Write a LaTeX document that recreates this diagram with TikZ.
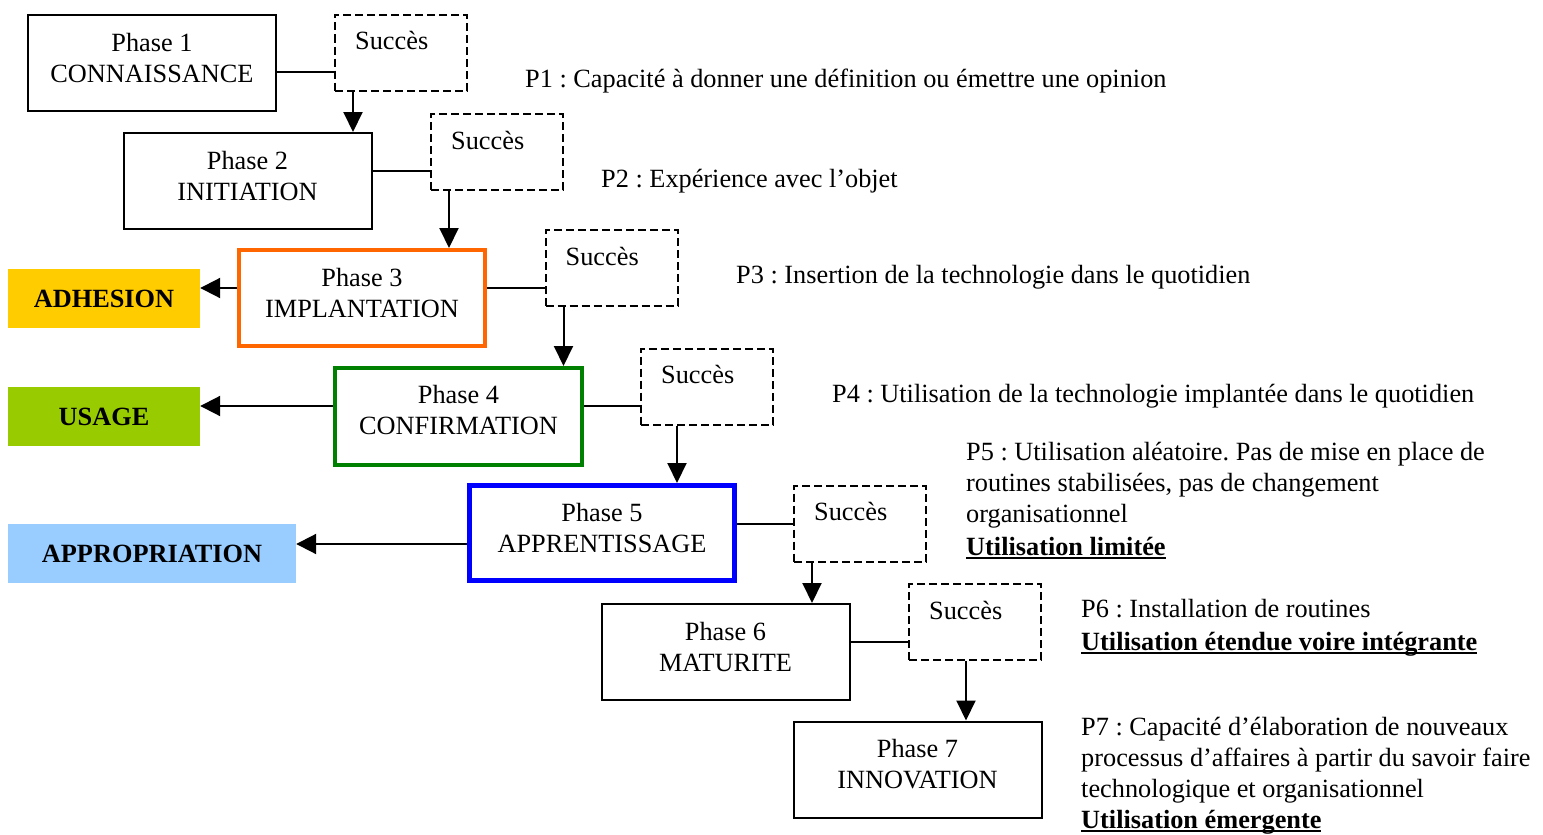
\documentclass[tikz,border=0pt]{standalone}
\usepackage{fontspec}
\setmainfont{Liberation Serif}
\usetikzlibrary{arrows.meta,calc}
\definecolor{adhcol}{HTML}{FFCC00}
\definecolor{usacol}{HTML}{99CC00}
\definecolor{appcol}{HTML}{99CCFF}
\definecolor{orangeline}{HTML}{FF6600}
\definecolor{greenline}{HTML}{008000}
\definecolor{blueline}{HTML}{0000FF}
\frenchspacing
% bold text with a word-processor style underline
\newcommand\ulbold[1]{\setbox0\hbox{\bfseries #1}\rlap{\rule[-3.5pt]{\wd0}{1.8pt}}\box0}

\begin{document}
\begin{tikzpicture}[x=1pt,y=-1pt,
  every node/.style={font=\fontsize{26.3}{31}\selectfont},
  phasebox/.style={draw, line width=2pt, minimum width=248pt, minimum height=96pt, inner sep=0pt},
  phasetext/.style={align=center, inner sep=0pt, anchor=base},
  succbox/.style={draw, dash pattern=on 8pt off 4pt, line width=2pt, minimum width=132pt, minimum height=76pt, inner sep=0pt},
  succtext/.style={anchor=base west, inner sep=0pt},
  link/.style={line width=2pt},
  arr/.style={line width=2pt, -{Triangle[length=20pt,width=19pt]}},
  harr/.style={line width=2pt, -{Triangle[length=20pt,width=20pt]}},
  tag/.style={font=\fontsize{26.3}{31}\selectfont\bfseries, inner sep=0pt, minimum height=59pt},
  note/.style={anchor=base west, inner sep=0pt, align=left}
]
\useasboundingbox[fill=white] (0,0) rectangle (1543,835);

% phase boxes
\node[phasebox] (p1) at (152,63) {};
\node[phasebox] (p2) at (247.5,181) {};
\node[phasebox, draw=orangeline, line width=4pt, minimum width=246pt, minimum height=96pt] (p3) at (362,298) {};
\node[phasebox, draw=greenline, line width=4pt, minimum width=247pt, minimum height=97pt] (p4) at (458.5,416.5) {};
\node[phasebox, draw=blueline, line width=5pt, minimum width=265pt, minimum height=95pt] (p5) at (602,533) {};
\node[phasebox] (p6) at (725.5,652) {};
\node[phasebox] (p7) at (917.5,769.5) {};

% labels: the base anchor sits on the second line
\node[phasetext] (t1) at ([yshift=-68pt]p1.north) {Phase 1\\CONNAISSANCE};
\node[phasetext] (t2) at ([yshift=-68pt]p2.north) {Phase 2\\INITIATION};
\node[phasetext] (t3) at ([yshift=-69pt]p3.north) {Phase 3\\IMPLANTATION};
\node[phasetext] (t4) at ([yshift=-68pt]p4.north) {Phase 4\\CONFIRMATION};
\node[phasetext] (t5) at ([yshift=-69pt]p5.north) {Phase 5\\APPRENTISSAGE};
\node[phasetext] (t6) at ([yshift=-68pt]p6.north) {Phase 6\\MATURITE};
\node[phasetext] (t7) at ([yshift=-68pt]p7.north) {Phase 7\\INNOVATION};

% success boxes
\node[succbox] (s1) at (401,52.5) {};
\node[succbox] (s2) at (497,152) {};
\node[succbox] (s3) at (611.5,268) {};
\node[succbox] (s4) at (707,386.5) {};
\node[succbox] (s5) at (860,523.5) {};
\node[succbox] (s6) at (975,622) {};
\foreach \s in {s1,s2,s3,s4,s5,s6}
  \node[succtext] (\s t) at ([xshift=21pt,yshift=-36pt]\s.north west) {Succès};

% outcome tags
\node[tag, fill=adhcol, minimum width=192pt] (adh) at (104,298.5) {ADHESION};
\node[tag, fill=usacol, minimum width=192pt] (usa) at (104,416.5) {USAGE};
\node[tag, fill=appcol, minimum width=288pt] (app) at (152,553.5) {APPROPRIATION};

% phase to success links
\draw[link] ([yshift=-19.5pt]s1.west -| p1.east) -- ([yshift=-19.5pt]s1.west);
\draw[link] ([yshift=-19pt]s2.west -| p2.east) -- ([yshift=-19pt]s2.west);
\draw[link] ([yshift=-20pt]s3.west -| p3.east) -- ([yshift=-20pt]s3.west);
\draw[link] ([yshift=-19.5pt]s4.west -| p4.east) -- ([yshift=-19.5pt]s4.west);
\draw[link] (s5.west -| p5.east) -- (s5.west);
\draw[link] ([yshift=-20pt]s6.west -| p6.east) -- ([yshift=-20pt]s6.west);

% success to next phase
\draw[arr] ([xshift=19pt]s1.south west) -- ([xshift=19pt]s1.south west |- p2.north);
\draw[arr] ([xshift=19pt]s2.south west) -- ([xshift=19pt]s2.south west |- p3.north);
\draw[arr] ([xshift=19pt]s3.south west) -- ([xshift=19pt]s3.south west |- p4.north);
\draw[arr] ([xshift=37pt]s4.south west) -- ([xshift=37pt]s4.south west |- p5.north);
\draw[arr] ([xshift=19pt]s5.south west) -- ([xshift=19pt]s5.south west |- p6.north);
\draw[arr] ([xshift=58pt]s6.south west) -- ([xshift=58pt]s6.south west |- p7.north);

% phase to outcome
\draw[harr] ([yshift=10pt]p3.west) -- ([yshift=10pt]p3.west -| adh.east);
\draw[harr] ([yshift=10.5pt]p4.west) -- ([yshift=10.5pt]p4.west -| usa.east);
\draw[harr] ([yshift=-11pt]p5.west) -- ([yshift=-11pt]p5.west -| app.east);

% descriptions (base anchor on the last line)
\node[note] (n1) at (525,87) {P1 : Capacité à donner une définition ou émettre une opinion};
\node[note] (n2) at (601,187) {P2 : Expérience avec l’objet};
\node[note] (n3) at (736,283) {P3 : Insertion de la technologie dans le quotidien};
\node[note] (n4) at (832,402) {P4 : Utilisation de la technologie implantée dans le quotidien};
\node[note] (n5) at (966,555) {P5 : Utilisation aléatoire. Pas de mise en place de\\routines stabilisées, pas de changement\\organisationnel\\[2pt]\ulbold{Utilisation limitée}};
\node[note] (n6) at (1081,650) {P6 : Installation de routines\\[2pt]\ulbold{Utilisation étendue voire intégrante}};
\node[note] (n7) at (1081,828) {P7 : Capacité d’élaboration de nouveaux\\processus d’affaires à partir du savoir faire\\technologique et organisationnel\\\ulbold{Utilisation émergente}};
\end{tikzpicture}
\end{document}
